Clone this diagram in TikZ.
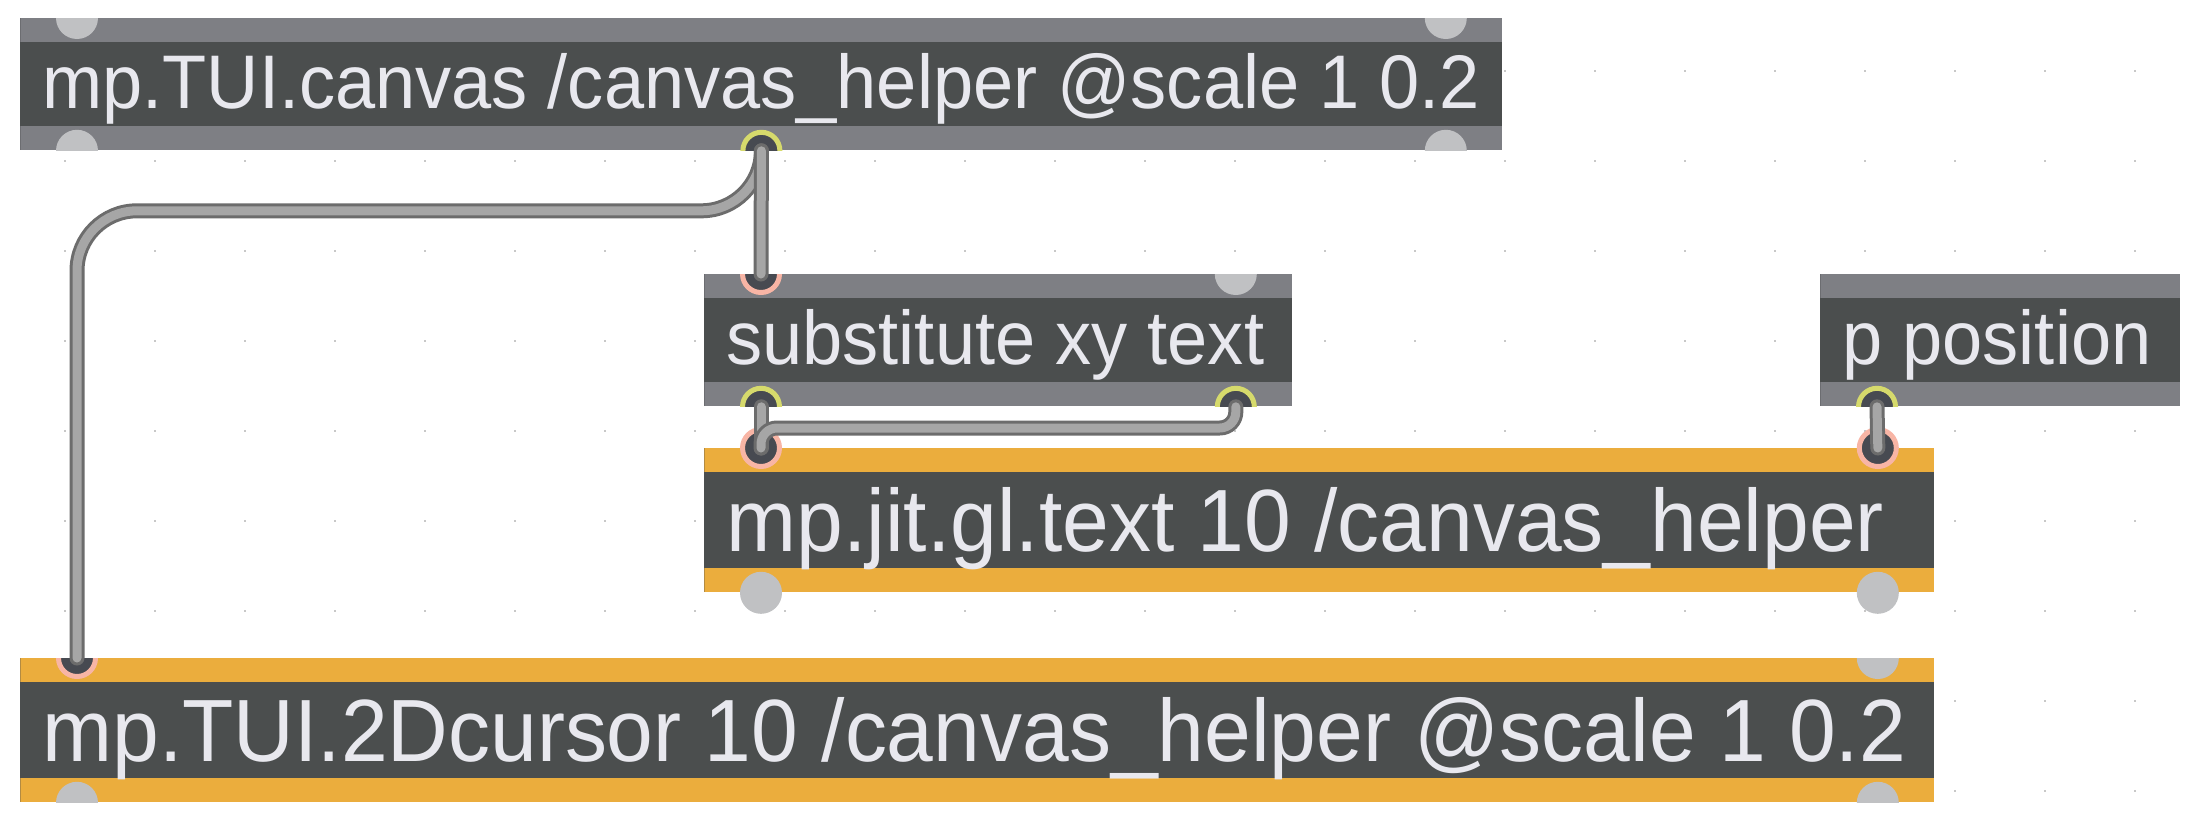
\documentclass[tikz,border=0pt]{standalone}
\usepackage{fontspec}
\newfontfamily\maxfont[FakeStretch=0.95]{Liberation Sans}
\definecolor{bandgrey}{HTML}{7E7F84}
\definecolor{darkband}{HTML}{4B4E4E}
\definecolor{bandorange}{HTML}{EBAD3D}
\definecolor{portgrey}{HTML}{C0C1C3}
\definecolor{portdark}{HTML}{474A51}
\definecolor{ringsalmon}{HTML}{F8B5A5}
\definecolor{ringyellow}{HTML}{D6DA6C}
\definecolor{cordfill}{HTML}{A6A6A6}
\definecolor{cordedge}{HTML}{6C6C6C}
\definecolor{dotc}{HTML}{C8C8C8}
\definecolor{txtc}{HTML}{E8E8EE}
\begin{document}
\begin{tikzpicture}[x=0.5pt,y=-0.5pt,
  box/.style={rectangle, anchor=north west, inner xsep=11pt, inner ysep=0pt,
    fill=darkband, text=txtc},
  greybox/.style={box, font=\maxfont\fontsize{38}{40}\selectfont,
    text height=45pt, text depth=21pt,
    path picture={
      \fill[bandgrey] (path picture bounding box.north west) rectangle ([yshift=-12pt]path picture bounding box.north east);
      \fill[bandgrey] (path picture bounding box.south west) rectangle ([yshift=12pt]path picture bounding box.south east);}},
  orangebox/.style={box, font=\maxfont\fontsize{44.2}{46}\selectfont,
    text height=51.5pt, text depth=20.5pt,
    path picture={
      \fill[bandorange] (path picture bounding box.north west) rectangle ([yshift=-12pt]path picture bounding box.north east);
      \fill[bandorange] (path picture bounding box.south west) rectangle ([yshift=12pt]path picture bounding box.south east);}},
  pgrey/.style={circle, inner sep=0pt, minimum size=21pt, fill=portgrey},
  pin/.style={circle, inner sep=0pt, minimum size=18.5pt, fill=portdark, draw=ringsalmon, line width=2.5pt},
  pout/.style={circle, inner sep=0pt, minimum size=18.5pt, fill=portdark, draw=ringyellow, line width=2.5pt},
  cord/.style={draw=cordedge, line width=1.5pt, double=cordfill, double distance=4.5pt, line cap=round, line join=round}
]
\useasboundingbox (0,0) rectangle (2204,830);
\fill[white] (0,0) rectangle (2204,830);
% grid dots
\foreach \i in {0,...,23}{
  \foreach \j in {0,...,8}{
    \fill[dotc] ({64+90*\i},{69.7+90*\j}) rectangle ++(2,2);
  }
}
% boxes
\node[greybox] (top) at (20,18) {\makebox[719pt][l]{mp.TUI.canvas /canvas\_helper @scale 1 0.2}};
\node[greybox] (sub) at (704,274) {\makebox[272pt][l]{substitute xy text}};
\node[greybox] (pp) at (1820,274) {\makebox[158pt][l]{p position}};
\node[orangebox] (gl) at (704,448) {\makebox[593pt][l]{mp.jit.gl.text 10 /canvas\_helper}};
\node[orangebox] (cur) at (20,658) {\makebox[935pt][l]{mp.TUI.2Dcursor 10 /canvas\_helper @scale 1 0.2}};
% ports
\begin{scope}
  \clip (top.north west) rectangle (top.south east);
  \node[pgrey] (top-i1) at ([xshift=28.5pt]top.north west) {};
  \node[pgrey] (top-i2) at ([xshift=-28.5pt]top.north east) {};
  \node[pgrey] (top-o1) at ([xshift=28.5pt]top.south west) {};
  \node[pout]  (top-o2) at (top.south) {};
  \node[pgrey] (top-o3) at ([xshift=-28.5pt]top.south east) {};
\end{scope}
\begin{scope}
  \clip (sub.north west) rectangle (sub.south east);
  \node[pin]   (sub-i1) at ([xshift=28.5pt]sub.north west) {};
  \node[pgrey] (sub-i2) at ([xshift=-28.5pt]sub.north east) {};
  \node[pout]  (sub-o1) at ([xshift=28.5pt]sub.south west) {};
  \node[pout]  (sub-o2) at ([xshift=-28.5pt]sub.south east) {};
\end{scope}
\begin{scope}
  \clip (pp.north west) rectangle (pp.south east);
  \node[pout]  (pp-o1) at ([xshift=28.5pt]pp.south west) {};
\end{scope}
\node[pin]   (gl-i1) at ([xshift=28.5pt]gl.north west) {};
\node[pin]   (gl-i2) at ([xshift=-28.5pt]gl.north east) {};
\node[pgrey] (gl-o1) at ([xshift=28.5pt]gl.south west) {};
\node[pgrey] (gl-o2) at ([xshift=-28.5pt]gl.south east) {};
\begin{scope}
  \clip (cur.north west) rectangle (cur.south east);
  \node[pin]   (cur-i1) at ([xshift=28.5pt]cur.north west) {};
  \node[pgrey] (cur-i2) at ([xshift=-28.5pt]cur.north east) {};
  \node[pgrey] (cur-o1) at ([xshift=28.5pt]cur.south west) {};
  \node[pgrey] (cur-o2) at ([xshift=-28.5pt]cur.south east) {};
\end{scope}
% cords
\draw[cord, rounded corners=30pt] (top-o2.center) -- ++(0,60) -| (cur-i1.center);
\draw[cord] (top-o2.center) -- (sub-i1.center);
\draw[cord] (sub-o1.center) -- (gl-i1.center);
\draw[cord, rounded corners=8pt] (sub-o2.center) |- ([yshift=10pt]gl-i1.center) -- (gl-i1.center);
\draw[cord] (pp-o1.center) -- (gl-i2.center);
\end{tikzpicture}
\end{document}
